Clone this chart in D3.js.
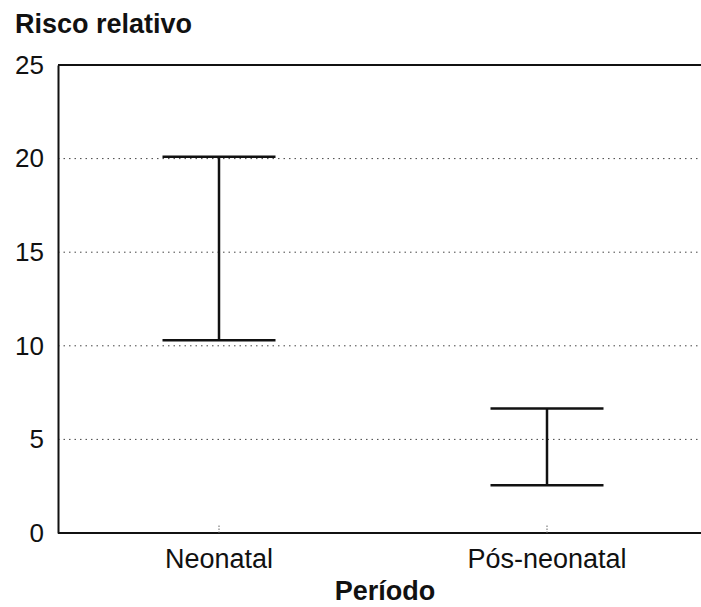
<!DOCTYPE html>
<html><head><meta charset="utf-8">
<script src="https://cdn.jsdelivr.net/npm/d3@7"></script>
<style>body{margin:0;background:#fff}svg{display:block}</style>
</head><body>
<svg id="c" width="701" height="607"></svg>
<script>
const categories = ["Neonatal", "Pós-neonatal"];
const upper = [20.1, 6.65];
const lower = [10.3, 2.55];
const yTicks = [0, 5, 10, 15, 20, 25];
const yTitle = "Risco relativo";
const xTitle = "Período";

(function () {
const svg = d3.select("#c");
const font = "'Liberation Sans', Arial, sans-serif";
const mLeft = 58, mTop = 65, mBottom = 533, mRight = 701;

const x = d3.scaleBand().domain(categories).range([55, 711]);
const y = d3.scaleLinear().domain([0, 25]).range([mBottom, mTop]);

// gridlines
svg.append("g").selectAll("line").data(yTicks.filter(t => t > 0 && t < 25)).join("line")
  .attr("x1", mLeft).attr("x2", mRight)
  .attr("y1", d => y(d)).attr("y2", d => y(d))
  .attr("stroke", "#444").attr("stroke-width", 1).attr("stroke-dasharray", "1.5,4");

// top border
svg.append("line").attr("x1", mLeft).attr("x2", mRight).attr("y1", y(25)).attr("y2", y(25))
  .attr("stroke", "#111").attr("stroke-width", 2);

// y axis
const yAxis = svg.append("g").attr("transform", `translate(${mLeft},0)`)
  .call(d3.axisLeft(y).tickValues(yTicks).tickSize(0).tickPadding(14));
yAxis.select(".domain").attr("stroke", "#111").attr("stroke-width", 2);
yAxis.selectAll("text").attr("font-family", font).attr("font-size", 26).attr("fill", "#111");

// x axis
const xAxis = svg.append("g").attr("transform", `translate(0,${mBottom})`)
  .call(d3.axisBottom(x).tickSize(-8).tickPadding(16));
xAxis.select(".domain").attr("d", `M${mLeft},0H${mRight}`).attr("stroke", "#111").attr("stroke-width", 2);
xAxis.selectAll(".tick line").attr("stroke", "#666").attr("stroke-dasharray", "1.5,1.5");
xAxis.selectAll("text").attr("font-family", font).attr("font-size", 27).attr("fill", "#111");

// error bars
const capW = 113;
const bars = svg.append("g").selectAll("g").data(categories).join("g");
bars.append("line")
  .attr("x1", d => x(d) + x.bandwidth() / 2).attr("x2", d => x(d) + x.bandwidth() / 2)
  .attr("y1", (d, i) => y(upper[i])).attr("y2", (d, i) => y(lower[i]))
  .attr("stroke", "#111").attr("stroke-width", 2.5);
bars.append("line")
  .attr("x1", d => x(d) + x.bandwidth() / 2 - capW / 2).attr("x2", d => x(d) + x.bandwidth() / 2 + capW / 2)
  .attr("y1", (d, i) => y(upper[i])).attr("y2", (d, i) => y(upper[i]))
  .attr("stroke", "#111").attr("stroke-width", 2.5);
bars.append("line")
  .attr("x1", d => x(d) + x.bandwidth() / 2 - capW / 2).attr("x2", d => x(d) + x.bandwidth() / 2 + capW / 2)
  .attr("y1", (d, i) => y(lower[i])).attr("y2", (d, i) => y(lower[i]))
  .attr("stroke", "#111").attr("stroke-width", 2.5);

// titles
svg.append("text").attr("x", 15).attr("y", 33).text(yTitle)
  .attr("font-family", font).attr("font-size", 27).attr("font-weight", "bold").attr("fill", "#111");
svg.append("text").attr("x", 385).attr("y", 600).attr("text-anchor", "middle").text(xTitle)
  .attr("font-family", font).attr("font-size", 27).attr("font-weight", "bold").attr("fill", "#111");
})();
</script>
</body></html>
